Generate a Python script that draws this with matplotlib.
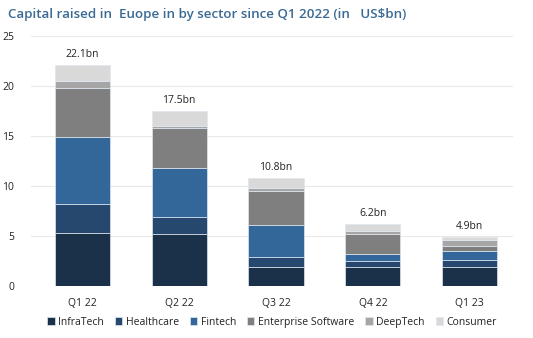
import numpy as np
import matplotlib.pyplot as plt

plt.rcParams['font.family'] = ['Open Sans', 'DejaVu Sans']

quarters = ['Q1 22', 'Q2 22', 'Q3 22', 'Q4 22', 'Q1 23']
sectors = ['InfraTech', 'Healthcare', 'Fintech', 'Enterprise Software', 'DeepTech', 'Consumer']
infratech = [5.3, 5.2, 1.9, 1.9, 1.9]
healthcare = [2.9, 1.7, 1.0, 0.6, 0.7]
fintech = [6.7, 4.9, 3.2, 0.7, 0.9]
enterprise = [4.9, 4.0, 3.4, 2.0, 0.5]
deeptech = [0.7, 0.2, 0.3, 0.3, 0.6]
consumer = [1.6, 1.5, 1.0, 0.7, 0.3]
totals = ['22.1bn', '17.5bn', '10.8bn', '6.2bn', '4.9bn']

colors = ['#1b3049', '#27486e', '#336699', '#7f7f7f', '#a6a6a6', '#d9d9d9']
series = [infratech, healthcare, fintech, enterprise, deeptech, consumer]

fig = plt.figure(figsize=(5.33, 3.38), dpi=100)
ax = fig.add_axes([0.058, 0.154, 0.905, 0.74])

x = np.arange(len(quarters))
bottom = np.zeros(len(quarters))
for vals, name, c in zip(series, sectors, colors):
    ax.bar(x, vals, 0.57, bottom=bottom, color=c, label=name,
           edgecolor='#dfe7f0', linewidth=0.5, zorder=3)
    bottom += np.array(vals)

for xi, top, lab in zip(x, bottom, totals):
    ax.annotate(lab, (xi, top), xytext=(0, 3.5), textcoords='offset points',
                ha='center', va='bottom', fontsize=7.5, color='#222222')

ax.set_xlim(-0.53, 4.45)
ax.set_ylim(0, 25)
ax.set_yticks([0, 5, 10, 15, 20, 25])
ax.set_xticks(x)
ax.set_xticklabels(quarters)
ax.grid(axis='y', color='#e8e8e8', linewidth=0.8, zorder=0)
for s in ax.spines.values():
    s.set_visible(False)
ax.tick_params(length=0, labelsize=7.5, colors='#222222')
ax.tick_params(axis='y', pad=12)
ax.tick_params(axis='x', pad=9)

fig.text(0.015, 0.958, 'Capital raised in  Euope in by sector since Q1 2022 (in   US$bn)',
         fontsize=9.6, fontweight='semibold', color='#3a6a94', va='center')

ax.legend(loc='center', bbox_to_anchor=(0.5, -0.145), ncol=6, frameon=False,
          fontsize=7.5, handlelength=0.7, handleheight=0.7, handletextpad=0.35,
          columnspacing=1.05, labelcolor='#222222')

fig.savefig('out.png', dpi=100)
